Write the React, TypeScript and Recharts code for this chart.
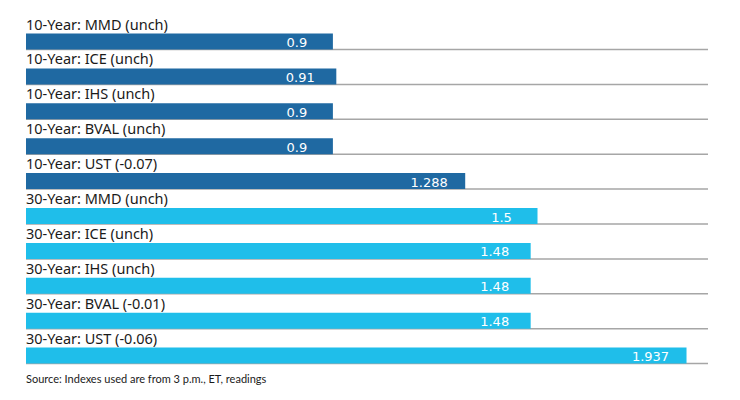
import { BarChart, Bar, XAxis, YAxis, Cell, LabelList } from "recharts";

const names = [
  "10-Year: MMD (unch)",
  "10-Year: ICE (unch)",
  "10-Year: IHS (unch)",
  "10-Year: BVAL (unch)",
  "10-Year: UST (-0.07)",
  "30-Year: MMD (unch)",
  "30-Year: ICE (unch)",
  "30-Year: IHS (unch)",
  "30-Year: BVAL (-0.01)",
  "30-Year: UST (-0.06)",
];
const yields = [0.9, 0.91, 0.9, 0.9, 1.288, 1.5, 1.48, 1.48, 1.48, 1.937];
const groups = ["10", "10", "10", "10", "10", "30", "30", "30", "30", "30"];

const colorFor: Record<string, string> = { "10": "#1f69a2", "30": "#1fbeea" };

const data = names.map((name, i) => ({ name, value: yields[i], group: groups[i] }));

const TrackLine = (props: any) => {
  const { x, y, width, height } = props;
  return (
    <line x1={x} x2={x + width} y1={y + height} y2={y + height} stroke="#a6a6a6" strokeWidth={1.5} />
  );
};

const NameLabel = (props: any) => {
  const { x, y, value } = props;
  return (
    <text x={x} y={y - 4} fill="#1a1a1a" fontSize={14.5} fontFamily="'Noto Sans', sans-serif">
      {value}
    </text>
  );
};

const ValueLabel = (props: any) => {
  const { x, y, width, height, value } = props;
  return (
    <text
      x={x + width - 36}
      y={y + height / 2 + 1}
      fill="#ffffff"
      fontSize={13}
      fontFamily="'DejaVu Sans', Verdana, sans-serif"
      textAnchor="middle"
      dominantBaseline="central"
    >
      {String(value)}
    </text>
  );
};

export default function App() {
  return (
    <div style={{ position: "relative", width: 724, height: 384 }}>
      <BarChart
        width={724}
        height={384}
        data={data}
        layout="vertical"
        margin={{ top: 16.5, right: 24, bottom: 18.5, left: 18 }}
        barCategoryGap={0}
      >
        <XAxis type="number" domain={[0, 2]} hide />
        <YAxis type="category" dataKey="name" hide />
        <Bar dataKey="value" barSize={16} isAnimationActive={false} background={<TrackLine />}>
          {data.map((d) => (
            <Cell key={d.name} fill={colorFor[d.group]} />
          ))}
          <LabelList dataKey="name" content={<NameLabel />} />
          <LabelList dataKey="value" content={<ValueLabel />} />
        </Bar>
      </BarChart>
      <div
        style={{
          position: "absolute",
          left: 18,
          top: 364,
          fontFamily: "Lato, sans-serif",
          fontSize: 11,
          color: "#1a1a1a",
          whiteSpace: "nowrap",
        }}
      >
        Source: Indexes used are from 3 p.m., ET, readings
      </div>
    </div>
  );
}
